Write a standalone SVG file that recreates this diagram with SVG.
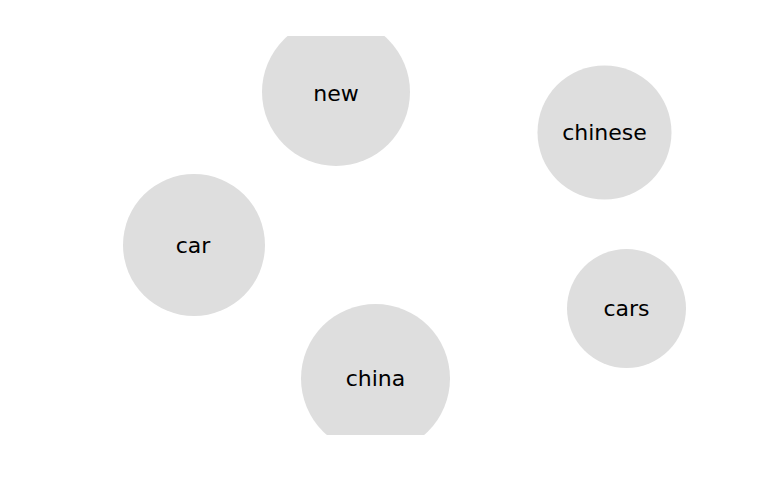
<svg xmlns="http://www.w3.org/2000/svg" width="768" height="500" viewBox="0 0 768 500">
<defs>
<clipPath id="clip"><rect x="0" y="36" width="768" height="399"/></clipPath>
<style>
.n{fill:#dedede}
.t{font-family:"DejaVu Sans",sans-serif;font-size:22px;fill:#000;text-anchor:middle;dominant-baseline:central}
</style>
</defs>
<rect width="768" height="500" fill="#fff"/>
<g id="connectors"></g>
<g clip-path="url(#clip)">
<g id="node-new"><circle class="n" cx="336" cy="92" r="74"/><text class="t" x="336" y="93">new</text></g>
<g id="node-chinese"><circle class="n" cx="604.5" cy="132.5" r="67"/><text class="t" x="604.5" y="132">chinese</text></g>
<g id="node-car"><circle class="n" cx="194" cy="245" r="71"/><text class="t" x="193" y="245">car</text></g>
<g id="node-cars"><circle class="n" cx="626.5" cy="308.5" r="59.5"/><text class="t" x="626.5" y="308">cars</text></g>
<g id="node-china"><circle class="n" cx="375.5" cy="378.5" r="74.5"/><text class="t" x="375.5" y="378">china</text></g>
</g>
</svg>
